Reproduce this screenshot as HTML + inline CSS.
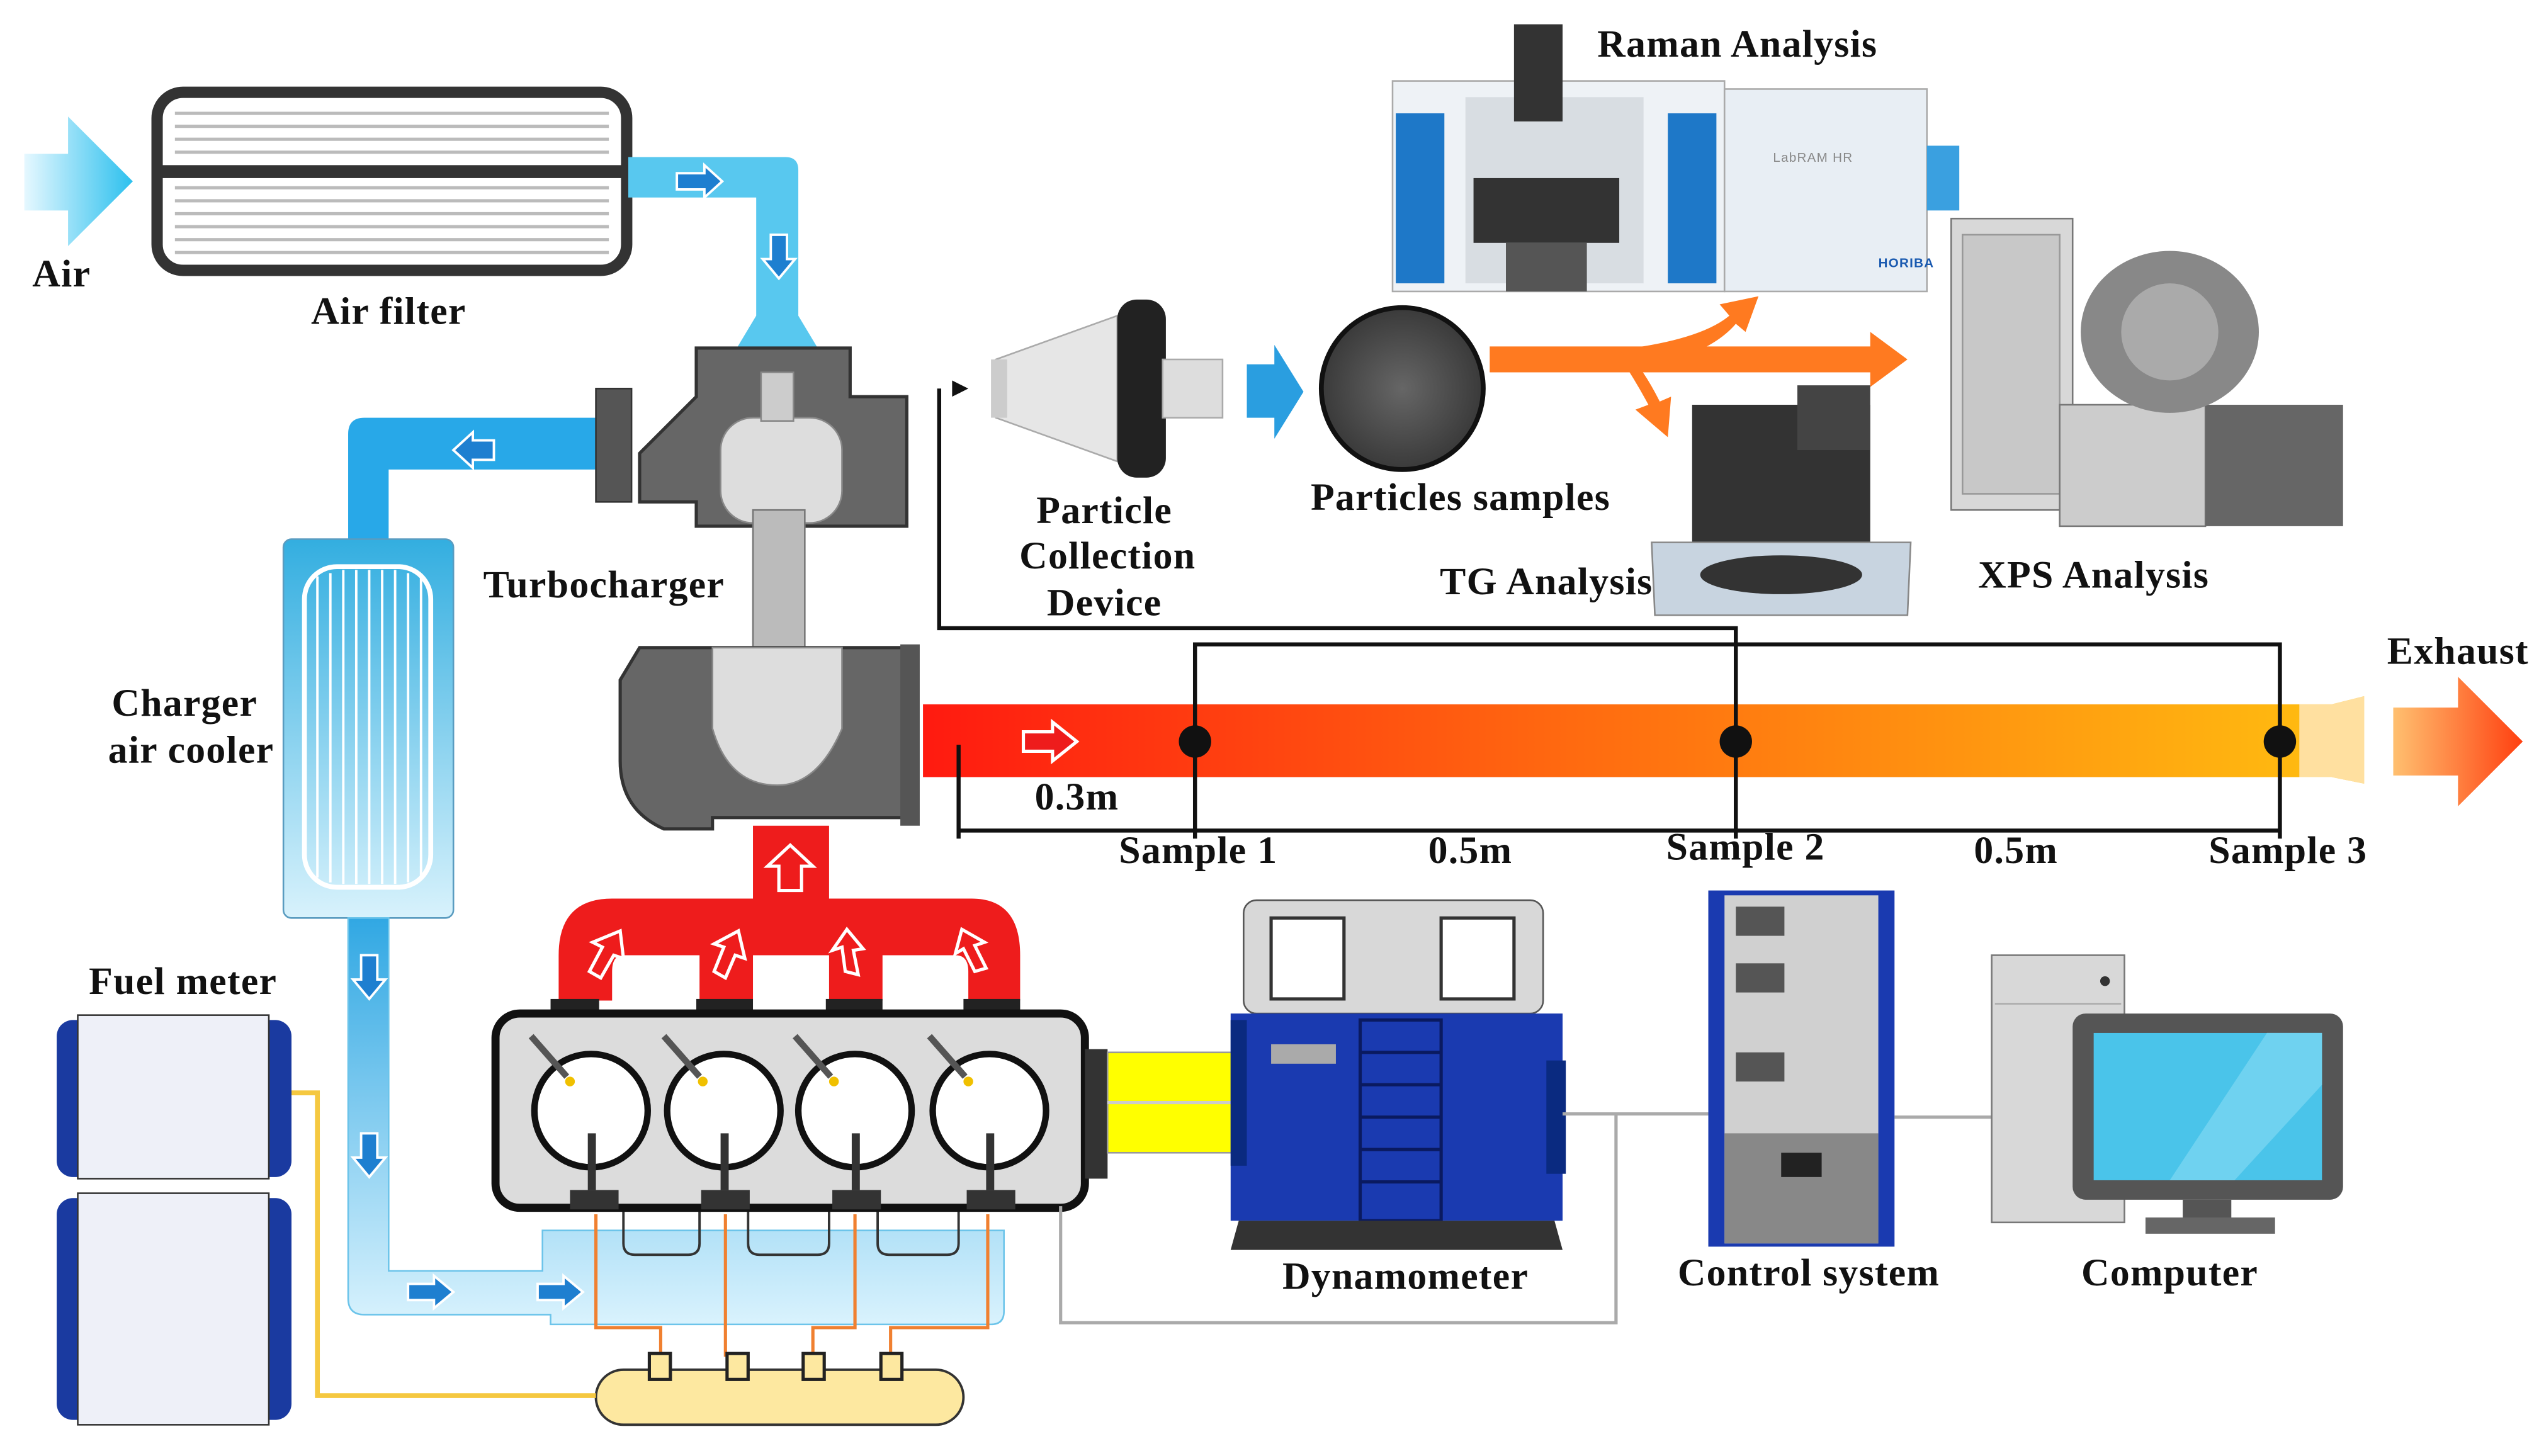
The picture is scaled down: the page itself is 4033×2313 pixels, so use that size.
<!DOCTYPE html>
<html><head><meta charset="utf-8"><style>
html,body{margin:0;padding:0;background:#fff}
svg{display:block}
text{font-family:"Liberation Serif",serif;font-weight:bold;font-size:24px;fill:#111;letter-spacing:0.5px}
</style></head><body>
<svg width="4033" height="2313" viewBox="0 0 1568 899.3" xmlns="http://www.w3.org/2000/svg">
<defs>
<linearGradient id="air" x1="0" x2="1"><stop offset="0" stop-color="#e6f8ff"/><stop offset="1" stop-color="#2cc0ee"/></linearGradient>
<linearGradient id="exh" x1="0" x2="1"><stop offset="0" stop-color="#ff1a10"/><stop offset="0.45" stop-color="#ff6a10"/><stop offset="1" stop-color="#ffc010"/></linearGradient>
<linearGradient id="exa" x1="0" x2="1"><stop offset="0" stop-color="#ffc070"/><stop offset="1" stop-color="#ff4010"/></linearGradient>
<linearGradient id="cool" x1="0" x2="0" y1="0" y2="1"><stop offset="0" stop-color="#33aee0"/><stop offset="1" stop-color="#d8f2fc"/></linearGradient>
<linearGradient id="pipe" x1="0" x2="0" y1="0" y2="1"><stop offset="0" stop-color="#1a9ee0"/><stop offset="1" stop-color="#d5f1fd"/></linearGradient>
<radialGradient id="samp"><stop offset="0" stop-color="#666"/><stop offset="1" stop-color="#3a3a3a"/></radialGradient>
</defs>

<polygon points="15,95 42,95 42,72 82,112 42,152 42,130 15,130" fill="url(#air)"/>
<text x="38" y="177" text-anchor="middle">Air</text>

<rect x="97" y="57" width="290" height="110" rx="16" fill="#fff" stroke="#333" stroke-width="7"/>
<g stroke="#bbb" stroke-width="2">
<line x1="108" y1="70" x2="376" y2="70"/><line x1="108" y1="78" x2="376" y2="78"/><line x1="108" y1="86" x2="376" y2="86"/><line x1="108" y1="94" x2="376" y2="94"/>
<line x1="108" y1="116" x2="376" y2="116"/><line x1="108" y1="124" x2="376" y2="124"/><line x1="108" y1="132" x2="376" y2="132"/><line x1="108" y1="140" x2="376" y2="140"/><line x1="108" y1="148" x2="376" y2="148"/><line x1="108" y1="156" x2="376" y2="156"/>
</g>
<rect x="97" y="102" width="290" height="8" fill="#333"/>
<text x="240" y="200" text-anchor="middle">Air filter</text>

<path d="M388,97 H485 Q493,97 493,105 V195 L505,215 H455 L467,195 V122 H388 Z" fill="#58c8ef"/>
<polygon points="418,107 435,107 435,102 446,112 435,122 435,117 418,117" fill="#1e7fd0" stroke="#fff" stroke-width="1.5"/>
<polygon points="476,145 486,145 486,160 491,160 481,172 471,160 476,160" fill="#1e7fd0" stroke="#fff" stroke-width="1.5"/>

<path d="M375,258 H225 Q215,258 215,268 V335 H240 V290 H375 Z" fill="#28a8e8"/>
<polygon points="305,272 292,272 292,267 280,278 292,289 292,284 305,284" fill="#1e7fd0" stroke="#fff" stroke-width="1.5"/>
<rect x="368" y="240" width="22" height="70" fill="#555" stroke="#333"/>
<path d="M430,215 H525 V245 H560 V325 H430 V310 H395 V280 L430,245 Z" fill="#666" stroke="#333" stroke-width="2"/>
<rect x="445" y="258" width="75" height="65" rx="20" fill="#ddd" stroke="#888"/>
<rect x="470" y="230" width="20" height="30" fill="#ccc" stroke="#888"/>
<rect x="465" y="315" width="32" height="95" fill="#bbb" stroke="#777"/>
<path d="M395,400 H558 V505 H440 V512 H410 Q383,500 383,470 V420 Z" fill="#666" stroke="#333" stroke-width="2"/>
<path d="M440,400 H520 V450 Q505,485 480,485 Q450,485 440,450 Z" fill="#ddd" stroke="#888"/>
<rect x="556" y="398" width="12" height="112" fill="#555"/>
<text x="373" y="369" text-anchor="middle">Turbocharger</text>

<rect x="175" y="333" width="105" height="234" rx="5" fill="url(#cool)" stroke="#5a9cc0"/>
<rect x="188" y="350" width="78" height="198" rx="20" fill="none" stroke="#fff" stroke-width="3"/>
<g stroke="#fff" stroke-width="1.5">
<line x1="196" y1="356" x2="196" y2="542"/><line x1="204" y1="354" x2="204" y2="545"/><line x1="212" y1="352" x2="212" y2="546"/><line x1="220" y1="352" x2="220" y2="546"/><line x1="228" y1="352" x2="228" y2="546"/><line x1="236" y1="352" x2="236" y2="546"/><line x1="244" y1="352" x2="244" y2="546"/><line x1="252" y1="354" x2="252" y2="545"/><line x1="260" y1="356" x2="260" y2="542"/>
</g>
<text x="114" y="442" text-anchor="middle">Charger</text>
<text x="118" y="471" text-anchor="middle">air cooler</text>

<path d="M215,567 H240 V785 H335 V760 H620 V810 Q620,818 612,818 H340 V812 H225 Q215,812 215,802 Z" fill="url(#pipe)" opacity="0.9"/>
<path d="M215,567 H240 V785 H335 V760 H620 V810 Q620,818 612,818 H340 V812 H225 Q215,812 215,802 Z" fill="none" stroke="#6cc4ea" stroke-width="1"/>
<g fill="#1e7fd0" stroke="#fff" stroke-width="1.5">
<polygon points="223,590 233,590 233,605 238,605 228,617 218,605 223,605"/>
<polygon points="223,700 233,700 233,715 238,715 228,727 218,715 223,715"/>
<polygon points="252,793 268,793 268,788 280,798 268,808 268,803 252,803"/>
<polygon points="332,793 348,793 348,788 360,798 348,808 348,803 332,803"/>
</g>
<g fill="none" stroke="#333" stroke-width="1.5">
<path d="M385,745 V768 Q385,775 392,775 H425 Q432,775 432,768 V745"/>
<path d="M462,745 V768 Q462,775 469,775 H505 Q512,775 512,768 V745"/>
<path d="M542,745 V768 Q542,775 549,775 H585 Q592,775 592,768 V745"/>
</g>

<path d="M465,510 H512 V555 H600 Q630,555 630,590 V618 H598 V600 Q598,590 590,590 H545 V618 H512 V590 H465 V618 H432 V590 H385 Q378,590 378,600 V618 H345 V590 Q345,555 378,555 H465 Z" fill="#ee1c1c"/>
<g fill="#ee1c1c" stroke="#fff" stroke-width="2">
<polygon points="481,550 481,535 474,535 488,522 502,535 495,535 495,550"/>
<polygon points="364,600 372,585 366,582 383,575 385,592 379,590 371,604"/>
<polygon points="441,600 447,585 441,583 456,575 460,592 454,590 448,604"/>
<polygon points="522,600 520,585 514,587 523,574 533,586 527,587 530,602"/>
<polygon points="602,600 595,586 590,589 594,574 608,582 602,584 609,598"/>
</g>
<rect x="340" y="617" width="30" height="8" fill="#222"/><rect x="430" y="617" width="35" height="8" fill="#222"/><rect x="510" y="617" width="35" height="8" fill="#222"/><rect x="595" y="617" width="35" height="8" fill="#222"/>

<rect x="306" y="626" width="364" height="120" rx="15" fill="#dcdcdc" stroke="#111" stroke-width="5"/>
<g fill="#fff" stroke="#111" stroke-width="4">
<circle cx="365" cy="686" r="35"/><circle cx="447" cy="686" r="35"/><circle cx="528" cy="686" r="35"/><circle cx="611" cy="686" r="35"/>
</g>
<g fill="#333">
<rect x="363" y="700" width="5" height="35"/><rect x="445" y="700" width="5" height="35"/><rect x="526" y="700" width="5" height="35"/><rect x="609" y="700" width="5" height="35"/>
<rect x="352" y="735" width="30" height="12"/><rect x="433" y="735" width="30" height="12"/><rect x="514" y="735" width="30" height="12"/><rect x="597" y="735" width="30" height="12"/>
</g>
<g stroke="#555" stroke-width="4">
<line x1="328" y1="640" x2="350" y2="665"/><line x1="410" y1="640" x2="432" y2="665"/><line x1="491" y1="640" x2="513" y2="665"/><line x1="574" y1="640" x2="596" y2="665"/>
</g>
<g fill="#f0c000"><circle cx="352" cy="668" r="3"/><circle cx="434" cy="668" r="3"/><circle cx="515" cy="668" r="3"/><circle cx="598" cy="668" r="3"/></g>
<rect x="670" y="648" width="14" height="80" fill="#333"/>

<g stroke="#f08030" stroke-width="2" fill="none">
<path d="M368,750 V820 H408 V838"/><path d="M448,750 V838"/><path d="M528,750 V820 H502 V838"/><path d="M610,750 V820 H550 V838"/>
</g>
<rect x="368" y="846" width="227" height="34" rx="17" fill="#fde8a0" stroke="#333" stroke-width="1.5"/>
<g fill="#fde8a0" stroke="#222" stroke-width="2"><rect x="401" y="836" width="13" height="16"/><rect x="449" y="836" width="13" height="16"/><rect x="496" y="836" width="13" height="16"/><rect x="544" y="836" width="13" height="16"/></g>
<path d="M180,675 H196 V862 H368" fill="none" stroke="#f5c840" stroke-width="3"/>

<text x="113" y="614" text-anchor="middle">Fuel meter</text>
<rect x="35" y="630" width="145" height="97" rx="10" fill="#1a3aa0"/><rect x="48" y="627" width="118" height="101" fill="#eef0f8" stroke="#333"/>
<rect x="35" y="740" width="145" height="137" rx="10" fill="#1a3aa0"/><rect x="48" y="737" width="118" height="143" fill="#eef0f8" stroke="#333"/>

<rect x="684" y="650" width="78" height="62" fill="#ffff00" stroke="#999"/>
<line x1="684" y1="681" x2="762" y2="681" stroke="#ccc" stroke-width="2"/>

<rect x="768" y="556" width="185" height="70" rx="8" fill="#d8d8d8" stroke="#555"/>
<rect x="785" y="567" width="45" height="50" fill="#fff" stroke="#333" stroke-width="2"/><rect x="890" y="567" width="45" height="50" fill="#fff" stroke="#333" stroke-width="2"/>
<rect x="760" y="626" width="205" height="128" fill="#1a3ab0"/>
<rect x="760" y="630" width="10" height="90" fill="#0a2a80"/><rect x="955" y="655" width="12" height="70" fill="#0a2a80"/>
<rect x="785" y="645" width="40" height="12" fill="#aaa"/>
<rect x="840" y="630" width="50" height="124" fill="none" stroke="#0a1a60" stroke-width="2"/>
<g stroke="#0a1a60" stroke-width="2"><line x1="840" y1="650" x2="890" y2="650"/><line x1="840" y1="670" x2="890" y2="670"/><line x1="840" y1="690" x2="890" y2="690"/><line x1="840" y1="710" x2="890" y2="710"/><line x1="840" y1="730" x2="890" y2="730"/></g>
<polygon points="765,754 960,754 965,772 760,772" fill="#333"/>
<text x="868" y="796" text-anchor="middle">Dynamometer</text>

<g stroke="#aaa" stroke-width="2" fill="none">
<path d="M655,745 V817 H998 V688"/><line x1="965" y1="688" x2="1055" y2="688"/><line x1="1170" y1="690" x2="1230" y2="690"/>
</g>

<rect x="1055" y="550" width="115" height="220" fill="#1a3ab0"/>
<rect x="1065" y="553" width="95" height="215" fill="#d0d0d0"/>
<rect x="1072" y="560" width="30" height="18" fill="#555"/><rect x="1072" y="595" width="30" height="18" fill="#555"/><rect x="1072" y="650" width="30" height="18" fill="#555"/>
<rect x="1065" y="700" width="95" height="68" fill="#888"/>
<rect x="1100" y="712" width="25" height="15" fill="#222"/>
<text x="1117" y="794" text-anchor="middle">Control system</text>

<rect x="1230" y="590" width="82" height="165" fill="#d8d8d8" stroke="#777"/>
<circle cx="1300" cy="606" r="3" fill="#333"/>
<line x1="1232" y1="620" x2="1310" y2="620" stroke="#aaa"/>
<rect x="1280" y="626" width="167" height="115" rx="8" fill="#555"/>
<rect x="1293" y="638" width="141" height="91" fill="#4ac4ea"/>
<polygon points="1400,638 1434,638 1434,670 1380,729 1340,729" fill="#6fd2f0"/>
<rect x="1348" y="741" width="30" height="12" fill="#555"/><rect x="1325" y="752" width="80" height="10" fill="#666"/>
<text x="1340" y="794" text-anchor="middle">Computer</text>

<path d="M570,435 H1440 L1460,430 V484 L1440,480 H570 Z" fill="url(#exh)"/>
<path d="M1420,435 H1440 L1460,430 V484 L1440,480 H1420 Z" fill="#ffe0a0"/>
<polygon points="632,452 650,452 650,446 665,458 650,470 650,464 632,464" fill="#ee1c1c" stroke="#fff" stroke-width="2"/>
<polygon points="1478,437 1518,437 1518,418 1558,458 1518,498 1518,479 1478,479" fill="url(#exa)"/>
<text x="1518" y="410" text-anchor="middle">Exhaust</text>

<g stroke="#111" stroke-width="2.5" fill="none">
<path d="M580,240 V388 H1072 V458"/>
<path d="M738,458 V398 H1408 V458"/>
<line x1="592" y1="460" x2="592" y2="518"/>
<line x1="592" y1="513" x2="1408" y2="513"/>
<line x1="738" y1="458" x2="738" y2="518"/><line x1="1072" y1="458" x2="1072" y2="518"/><line x1="1408" y1="458" x2="1408" y2="518"/>
</g>
<polygon points="598,240 588,235 588,245" fill="#111"/>
<g fill="#111"><circle cx="738" cy="458" r="10"/><circle cx="1072" cy="458" r="10"/><circle cx="1408" cy="458" r="10"/></g>
<text x="665" y="500" text-anchor="middle">0.3m</text>
<text x="740" y="533" text-anchor="middle">Sample 1</text>
<text x="908" y="533" text-anchor="middle">0.5m</text>
<text x="1078" y="531" text-anchor="middle">Sample 2</text>
<text x="1245" y="533" text-anchor="middle">0.5m</text>
<text x="1413" y="533" text-anchor="middle">Sample 3</text>

<polygon points="615,222 690,195 690,285 615,258" fill="#e6e6e6" stroke="#aaa"/>
<rect x="612" y="222" width="10" height="36" fill="#ccc"/>
<rect x="690" y="185" width="30" height="110" rx="12" fill="#222"/>
<rect x="718" y="222" width="37" height="36" fill="#ddd" stroke="#aaa"/>
<text x="682" y="323" text-anchor="middle">Particle</text>
<text x="684" y="351" text-anchor="middle">Collection</text>
<text x="682" y="380" text-anchor="middle">Device</text>
<polygon points="770,225 787,225 787,213 805,242 787,271 787,258 770,258" fill="#2a9ee0"/>
<circle cx="866" cy="240" r="50" fill="url(#samp)" stroke="#111" stroke-width="3"/>
<text x="902" y="315" text-anchor="middle">Particles samples</text>

<g fill="#ff7a20">
<path d="M920,214 H1155 V205 L1178,222 L1155,239 V230 H920 Z"/>
<path d="M1000,216 Q1050,210 1068,195 L1062,188 L1086,183 L1078,205 L1072,200 Q1055,220 1010,228 Z"/>
<path d="M1000,220 Q1010,235 1018,250 L1010,253 L1030,270 L1032,245 L1025,248 Q1015,228 1005,218 Z"/>
</g>

<!-- Raman -->
<text x="1073" y="35" text-anchor="middle">Raman Analysis</text>
<rect x="860" y="50" width="205" height="130" fill="#eef2f6" stroke="#aaa"/>
<rect x="862" y="70" width="30" height="105" fill="#1e78c8"/><rect x="1030" y="70" width="30" height="105" fill="#1e78c8"/>
<rect x="905" y="60" width="110" height="115" fill="#d8dde2"/>
<rect x="935" y="15" width="30" height="60" fill="#333"/>
<rect x="910" y="110" width="90" height="40" fill="#333"/>
<rect x="930" y="150" width="50" height="30" fill="#555"/>
<rect x="1065" y="55" width="125" height="125" fill="#e8eef4" stroke="#aaa"/>
<rect x="1190" y="90" width="20" height="40" fill="#3aa0e0"/>
<text x="1160" y="165" style="font-size:8px;fill:#1a5ab0;font-family:'Liberation Sans',sans-serif">HORIBA</text>
<text x="1095" y="100" style="font-size:8px;fill:#888;font-family:'Liberation Sans',sans-serif;font-weight:normal">LabRAM HR</text>

<!-- TG -->
<rect x="1045" y="250" width="110" height="90" fill="#333"/>
<rect x="1110" y="238" width="45" height="40" fill="#444"/>
<polygon points="1020,335 1180,335 1178,380 1022,380" fill="#c8d4e0" stroke="#888"/>
<ellipse cx="1100" cy="355" rx="50" ry="12" fill="#333"/>
<text x="955" y="367" text-anchor="middle">TG Analysis</text>

<!-- XPS -->
<rect x="1205" y="135" width="75" height="180" fill="#d8d8d8" stroke="#777"/>
<rect x="1212" y="145" width="60" height="160" fill="#c8c8c8" stroke="#999"/>
<rect x="1272" y="250" width="90" height="75" fill="#ccc" stroke="#777"/>
<rect x="1362" y="250" width="85" height="75" fill="#666"/>
<ellipse cx="1340" cy="205" rx="55" ry="50" fill="#888"/>
<circle cx="1340" cy="205" r="30" fill="#aaa"/>
<text x="1293" y="363" text-anchor="middle">XPS Analysis</text>
</svg>
</body></html>
